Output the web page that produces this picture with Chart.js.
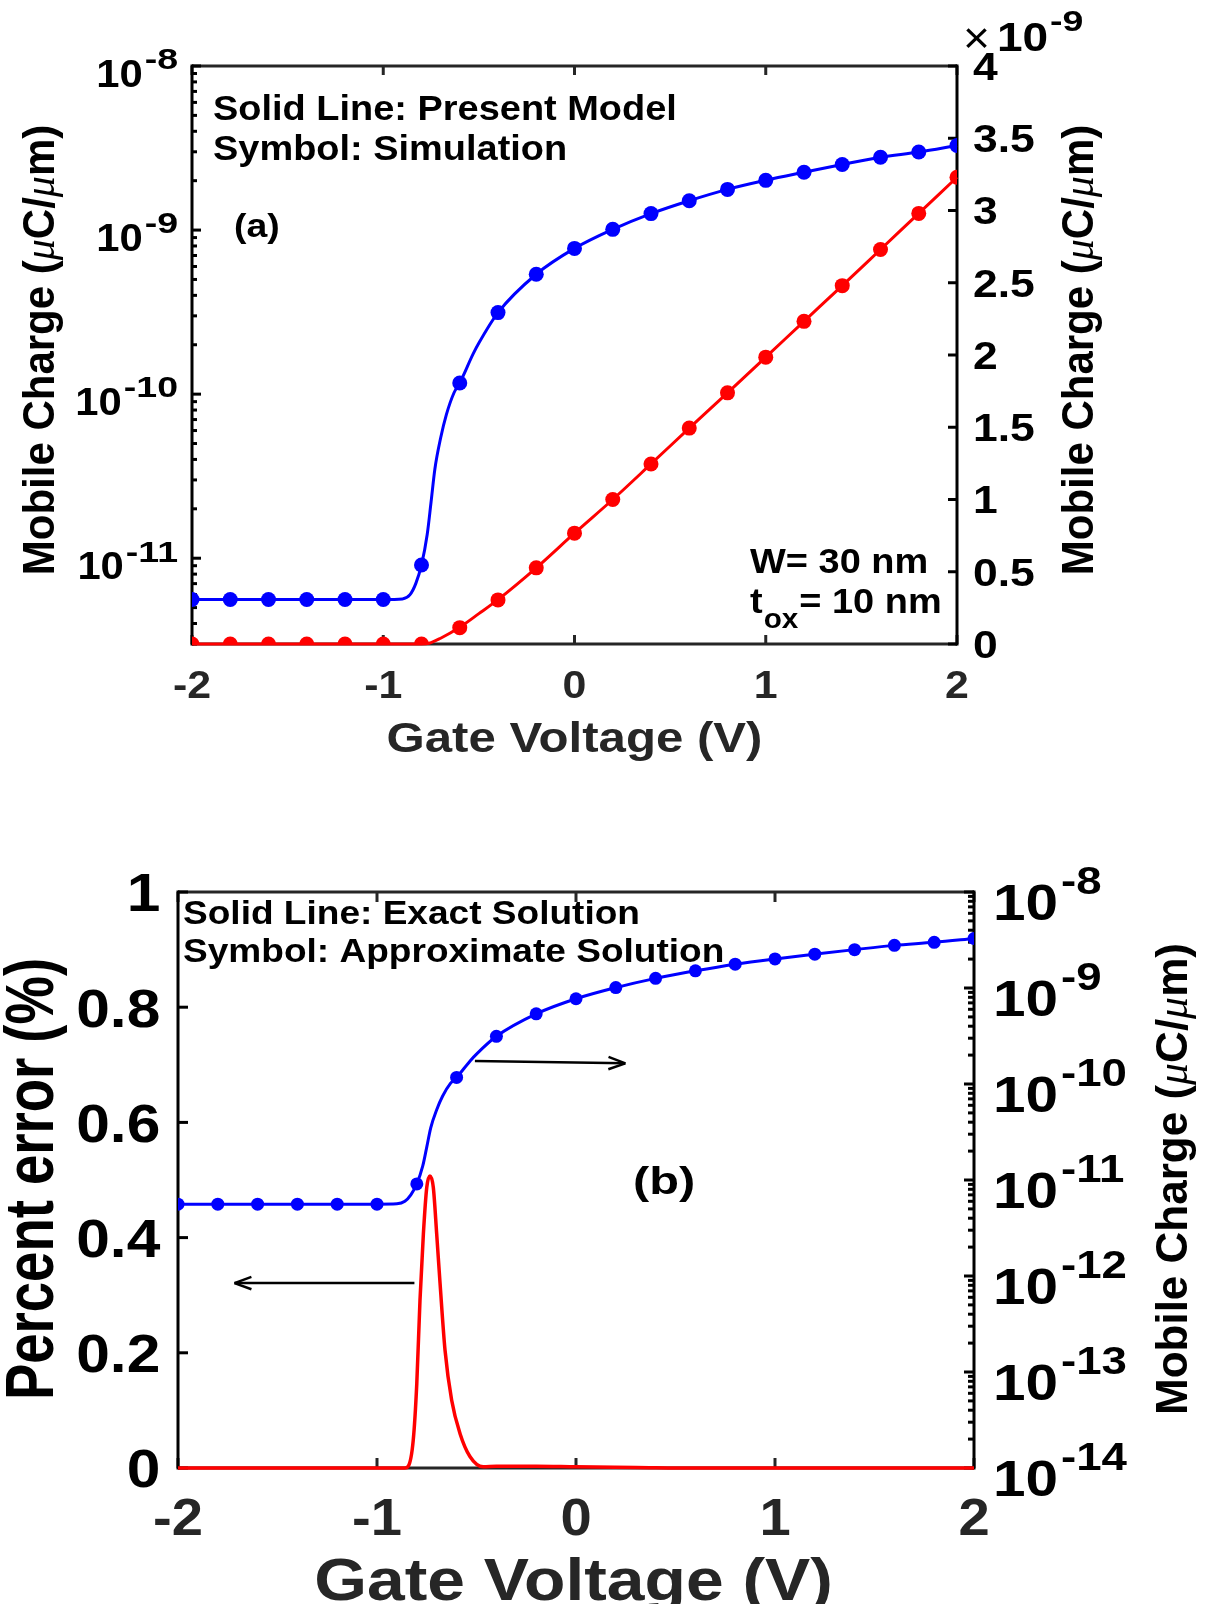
<!DOCTYPE html>
<html>
<head>
<meta charset="utf-8">
<script src="https://cdn.jsdelivr.net/npm/chart.js@4.4.1/dist/chart.umd.min.js"></script>
<style>
  html, body { margin: 0; padding: 0; background: #fff; width: 1213px; height: 1604px; overflow: hidden; }
  canvas { position: absolute; left: 0; }
  #chartA { top: 0; }
  #chartB { top: 800px; }
</style>
</head>
<body>
<canvas id="chartA" width="1213" height="800"></canvas>
<canvas id="chartB" width="1213" height="804"></canvas>
<script>
// ---- data ----
// gate voltage of the simulation symbols (V)
const simV = [-2, -1.8, -1.6, -1.4, -1.2, -1, -0.8, -0.6, -0.4, -0.2, 0, 0.2, 0.4, 0.6, 0.8, 1, 1.2, 1.4, 1.6, 1.8, 2];
// mobile charge, log axis (uC/um)
const blueSim = [5.6e-12, 5.6e-12, 5.6e-12, 5.6e-12, 5.6e-12, 5.6e-12, 9.1e-12, 1.17e-10, 3.14e-10, 5.38e-10, 7.73e-10,
                 1.01e-9, 1.26e-9, 1.51e-9, 1.77e-9, 2.01e-9, 2.25e-9, 2.51e-9, 2.78e-9, 2.99e-9, 3.28e-9];
// mobile charge, linear axis (x 1e-9 uC/um)
const redSim = [0, 0, 0, 0, 0, 0, 0, 0.113, 0.305, 0.527, 0.767, 1.0, 1.246, 1.494, 1.738, 1.985, 2.233, 2.48, 2.73, 2.98, 3.23];

// solid lines (model / exact solution)
const blueLineV = [-2, -1, -0.9, -0.86, -0.83, -0.8, -0.77, -0.75, -0.73, -0.7, -0.67, -0.63, -0.6, -0.53, -0.5, -0.4, -0.2,
                   0, 0.2, 0.4, 0.6, 0.8, 1, 1.2, 1.4, 1.6, 1.8, 2];
const blueLine = [5.6e-12, 5.6e-12, 5.65e-12, 6.0e-12, 7.0e-12, 9.1e-12, 1.4e-11, 2.2e-11, 3.5e-11, 5.4e-11, 7.5e-11, 1.02e-10,
                  1.17e-10, 1.76e-10, 2.05e-10, 3.14e-10, 5.38e-10, 7.73e-10, 1.01e-9, 1.26e-9, 1.51e-9, 1.77e-9, 2.01e-9,
                  2.25e-9, 2.51e-9, 2.78e-9, 2.99e-9, 3.28e-9];
const redLineV = [-2, -0.8, -0.76, -0.7, -0.6, -0.5, -0.4, -0.2, 0, 0.2, 0.4, 0.6, 0.8, 1, 1.2, 1.4, 1.6, 1.8, 2];
const redLine = [0, 0, 0.005, 0.04, 0.116, 0.21, 0.307, 0.527, 0.767, 1.0, 1.246, 1.494, 1.738, 1.985, 2.233, 2.48, 2.73, 2.98, 3.23];

// percent error (%)
const errV = [-2, -0.86, -0.843, -0.818, -0.8, -0.784, -0.767, -0.75, -0.734, -0.717, -0.7, -0.683, -0.658, -0.625,
              -0.583, -0.533, -0.466, -0.4, -0.2, 0, 0.3, 0.6, 2];
const errLine = [0, 0, 0.003, 0.048, 0.147, 0.291, 0.406, 0.487, 0.507, 0.487, 0.406, 0.32, 0.204, 0.118,
                 0.06, 0.02, 0.002, 0.003, 0.003, 0.002, 0.001, 0, 0];

// ticks
const xTickVals = [-2, -1, 0, 1, 2];
const chargeTicksA = [0, 0.5, 1, 1.5, 2, 2.5, 3, 3.5, 4];
const decadesA = [-8, -9, -10, -11];
const errTicksB = [0, 0.2, 0.4, 0.6, 0.8, 1];
const decadesB = [-8, -9, -10, -11, -12, -13, -14];

const BLUE = '#0000ff', RED = '#ff0000', INK = '#262626';
const SANS = '"Liberation Sans", Arial, Helvetica, sans-serif';
const SERIF = '"Liberation Serif", "Times New Roman", serif';

// ---- helpers ----
const xy = (xs, ys) => xs.map((x, i) => ({x: x, y: ys[i]}));
const fb = (size) => 'bold ' + size + 'px ' + SANS;

function seg(ctx, x1, y1, x2, y2) {
    ctx.beginPath(); ctx.moveTo(x1, y1); ctx.lineTo(x2, y2); ctx.stroke();
}
function tw(ctx, s, font) {
    ctx.font = font;
    return ctx.measureText(s).width;
}
// text with a horizontal stretch (the figure text is drawn wide)
function txt(ctx, s, x, y, o) {
    ctx.save();
    ctx.translate(x, y);
    ctx.scale(o.sx || 1, 1);
    ctx.font = o.font;
    ctx.fillStyle = o.color || '#000';
    ctx.textAlign = o.align || 'left';
    ctx.textBaseline = 'alphabetic';
    ctx.fillText(s, 0, 0);
    ctx.restore();
}
// vertical title reading bottom to top, mixed fonts
function vTitle(ctx, runs, bx, cy, sy, color) {
    ctx.save();
    let total = 0;
    runs.forEach(r => { total += tw(ctx, r[0], r[1]); });
    ctx.translate(bx, cy);
    ctx.rotate(-Math.PI / 2);
    ctx.scale(1, sy);
    ctx.fillStyle = color;
    ctx.textAlign = 'left';
    ctx.textBaseline = 'alphabetic';
    let x = -total / 2;
    runs.forEach(r => {
        ctx.font = r[1];
        ctx.fillText(r[0], x, 0);
        x += ctx.measureText(r[0]).width;
    });
    ctx.restore();
}
function arrow(ctx, x1, y1, x2, y2) {
    seg(ctx, x1, y1, x2, y2);
    const ang = Math.atan2(y2 - y1, x2 - x1), L = 18, W = 0.35;
    seg(ctx, x2, y2, x2 - L * Math.cos(ang - W), y2 - L * Math.sin(ang - W));
    seg(ctx, x2, y2, x2 - L * Math.cos(ang + W), y2 - L * Math.sin(ang + W));
}

function yTickMarks(ctx, s, side, a, tl, tlMinor) {
    const x0 = side === 'left' ? a.left : a.right;
    const dir = side === 'left' ? 1 : -1;
    if (s.type === 'logarithmic') {
        const lo = Math.floor(Math.log10(s.min)), hi = Math.ceil(Math.log10(s.max));
        for (let n = lo; n <= hi; n++) {
            for (let k = 1; k <= 9; k++) {
                const v = k * Math.pow(10, n);
                if (v < s.min * 0.999 || v > s.max * 1.001) continue;
                const p = s.getPixelForValue(v);
                seg(ctx, x0, p, x0 + dir * (k === 1 ? tl : tlMinor), p);
            }
        }
    } else {
        s.ticks.forEach(t => {
            const p = s.getPixelForValue(t.value);
            seg(ctx, x0, p, x0 + dir * tl, p);
        });
    }
}

// matlab style box with inward ticks
function drawBox(chart, o) {
    const {ctx, chartArea: a, scales} = chart;
    ctx.save();
    ctx.lineWidth = o.lw;
    ctx.strokeStyle = INK;
    seg(ctx, a.left, a.top, a.right, a.top);
    seg(ctx, a.left, a.bottom, a.right, a.bottom);
    scales.x.ticks.forEach(t => {
        const p = scales.x.getPixelForValue(t.value);
        seg(ctx, p, a.bottom, p, a.bottom - o.tl);
        seg(ctx, p, a.top, p, a.top + o.tl);
    });
    ctx.strokeStyle = '#000';
    seg(ctx, a.left, a.top - o.lw / 2, a.left, a.bottom + o.lw / 2);
    seg(ctx, a.right, a.top - o.lw / 2, a.right, a.bottom + o.lw / 2);
    yTickMarks(ctx, scales.yL, 'left', a, o.tl, o.tlMinor);
    yTickMarks(ctx, scales.yR, 'right', a, o.tl, o.tlMinor);
    ctx.restore();
}

function logLabels(ctx, s, decs, o) {
    decs.forEach(e => {
        const p = s.getPixelForValue(Math.pow(10, e));
        const wb = tw(ctx, '10', fb(o.size)) * o.sx;
        const ws = tw(ctx, String(e), fb(o.supSize)) * o.supSx;
        const x = o.align === 'right' ? o.x - wb - o.gap - ws : o.x;
        txt(ctx, '10', x, p + o.dyBase, {font: fb(o.size), sx: o.sx});
        txt(ctx, String(e), x + wb + o.gap, p + o.dySup, {font: fb(o.supSize), sx: o.supSx});
    });
}

function xLabels(ctx, s, vals, y, size, sx) {
    vals.forEach(v => {
        txt(ctx, String(v), s.getPixelForValue(v), y + 0.358 * size, {font: fb(size), sx: sx, align: 'center', color: INK});
    });
}

function axis(type, position, min, max, vals, fit) {
    return {
        type: type, position: position, min: min, max: max,
        afterBuildTicks: s => { s.ticks = vals.map(v => ({value: v})); },
        afterFit: fit,
        ticks: {display: false},
        grid: {display: false, drawTicks: false},
        border: {display: false}
    };
}

function symbols(data, axisId, color, r) {
    return {data: data, yAxisID: axisId, showLine: false, pointRadius: r, pointHoverRadius: r,
            pointBackgroundColor: color, pointBorderWidth: 0, clip: 0};
}
function curve(data, axisId, color, w) {
    return {data: data, yAxisID: axisId, borderColor: color, borderWidth: w, pointRadius: 0,
            cubicInterpolationMode: 'monotone', fill: false, clip: 4};
}

const baseOptions = (padTop) => ({
    responsive: false,
    animation: false,
    events: [],
    layout: {padding: {top: padTop, left: 0, right: 0, bottom: 0}},
    plugins: {legend: {display: false}, tooltip: {enabled: false}, title: {display: false}}
});

// ---- chart (a) ----
const optsA = baseOptions(66);
optsA.scales = {
    x: axis('linear', 'bottom', -2, 2, xTickVals, s => { s.height = 156; }),
    yL: axis('logarithmic', 'left', 3e-12, 1e-8, decadesA.map(e => Math.pow(10, e)), s => { s.width = 192; }),
    yR: axis('linear', 'right', 0, 4, chargeTicksA, s => { s.width = 256; })
};

const decorA = {
    id: 'decorA',
    beforeDatasetsDraw(chart) {
        drawBox(chart, {lw: 3, tl: 9, tlMinor: 5});
    },
    afterDatasetsDraw(chart) {
        const {ctx, scales} = chart;
        ctx.save();
        // tick labels
        xLabels(ctx, scales.x, xTickVals, 684, 39, 1.1);
        logLabels(ctx, scales.yL, decadesA, {align: 'right', x: 178, size: 38, supSize: 30, sx: 1.1, supSx: 1.25,
                                             gap: 2, dyBase: 20.7, dySup: 3.3});
        chargeTicksA.forEach(v => {
            txt(ctx, String(v), 973, scales.yR.getPixelForValue(v) + 0.358 * 39, {font: fb(39), sx: 1.14});
        });
        // exponent of right axis
        txt(ctx, '\u00d7', 963, 53, {font: '400 44px ' + SANS, sx: 1.05});
        txt(ctx, '10', 997, 51, {font: fb(40), sx: 1.15});
        txt(ctx, '-9', 1050, 30.7, {font: fb(30), sx: 1.25});
        // titles
        txt(ctx, 'Gate Voltage (V)', 574.5, 752, {font: fb(42), sx: 1.17, align: 'center', color: INK});
        const runs = [['Mobile Charge (', fb(42)], ['\u03bc', 'italic 42px ' + SERIF], ['C/', fb(42)],
                      ['\u03bc', 'italic 42px ' + SERIF], ['m)', fb(42)]];
        vTitle(ctx, runs, 54, 350, 1.05, '#000');
        vTitle(ctx, runs, 1093, 350, 1.05, '#000');
        // annotations
        const t = {font: fb(34.5), sx: 1.1};
        txt(ctx, 'Solid Line: Present Model', 213, 119.5, t);
        txt(ctx, 'Symbol: Simulation', 213, 159.5, t);
        txt(ctx, '(a)', 234, 237, {font: fb(34), sx: 1.1});
        txt(ctx, 'W= 30 nm', 750, 572.7, t);
        txt(ctx, 't', 750, 613.3, t);
        const wt = tw(ctx, 't', t.font) * t.sx;
        txt(ctx, 'ox', 750 + wt + 1, 628.3, {font: fb(27), sx: 1.1});
        const wo = tw(ctx, 'ox', fb(27)) * 1.1;
        txt(ctx, '= 10 nm', 750 + wt + 1 + wo + 1, 613.3, t);
        ctx.restore();
    }
};

new Chart(document.getElementById('chartA'), {
    type: 'line',
    data: {
        datasets: [
            symbols(xy(simV, blueSim), 'yL', BLUE, 7.5),
            symbols(xy(simV, redSim), 'yR', RED, 7.5),
            curve(xy(blueLineV, blueLine), 'yL', BLUE, 3),
            curve(xy(redLineV, redLine), 'yR', RED, 3)
        ]
    },
    options: optsA,
    plugins: [decorA]
});

// ---- chart (b) ----
const optsB = baseOptions(92);
optsB.scales = {
    x: axis('linear', 'bottom', -2, 2, xTickVals, s => { s.height = 136; }),
    yL: axis('linear', 'left', 0, 1, errTicksB, s => { s.width = 178; }),
    yR: axis('logarithmic', 'right', 1e-14, 1e-8, decadesB.map(e => Math.pow(10, e)), s => { s.width = 239; })
};

const decorB = {
    id: 'decorB',
    beforeDatasetsDraw(chart) {
        drawBox(chart, {lw: 3, tl: 10, tlMinor: 6});
    },
    afterDatasetsDraw(chart) {
        const {ctx, scales} = chart;
        ctx.save();
        xLabels(ctx, scales.x, xTickVals, 716.7, 52, 1.08);
        errTicksB.forEach(v => {
            txt(ctx, String(v), 160.3, scales.yL.getPixelForValue(v) + 0.358 * 54, {font: fb(54), sx: 1.12, align: 'right'});
        });
        logLabels(ctx, scales.yR, decadesB, {align: 'left', x: 993, size: 50, supSize: 38, sx: 1.17, supSx: 1.2,
                                             gap: 3, dyBase: 28.3, dySup: 1.6});
        // titles
        txt(ctx, 'Gate Voltage (V)', 573.6, 800, {font: fb(60), sx: 1.13, align: 'center', color: INK});
        vTitle(ctx, [['Percent error (%)', fb(54.5)]], 52.8, 379, 1.25, '#000');
        vTitle(ctx, [['Mobile Charge (', fb(44)], ['\u03bc', 'italic 44px ' + SERIF], ['C/', fb(44)],
                     ['\u03bc', 'italic 44px ' + SERIF], ['m)', fb(44)]], 1187, 379, 1.0, '#000');
        // annotations
        const t = {font: fb(32.5), sx: 1.14};
        txt(ctx, 'Solid Line: Exact Solution', 183, 124, t);
        txt(ctx, 'Symbol: Approximate Solution', 183, 161.7, t);
        txt(ctx, '(b)', 633, 394, {font: fb(39), sx: 1.25});
        // arrows pointing to the axis each curve belongs to
        const X = scales.x, Y = scales.yL;
        ctx.lineWidth = 2.5;
        ctx.strokeStyle = '#000';
        arrow(ctx, X.getPixelForValue(-0.508), Y.getPixelForValue(0.7065), X.getPixelForValue(0.248), Y.getPixelForValue(0.7025));
        arrow(ctx, X.getPixelForValue(-0.812), Y.getPixelForValue(0.321), X.getPixelForValue(-1.716), Y.getPixelForValue(0.321));
        ctx.restore();
    }
};

new Chart(document.getElementById('chartB'), {
    type: 'line',
    data: {
        datasets: [
            symbols(xy(simV, blueSim), 'yR', BLUE, 6.5),
            curve(xy(blueLineV, blueLine), 'yR', BLUE, 3),
            curve(xy(errV, errLine), 'yL', RED, 3.5)
        ]
    },
    options: optsB,
    plugins: [decorB]
});
</script>
</body>
</html>
